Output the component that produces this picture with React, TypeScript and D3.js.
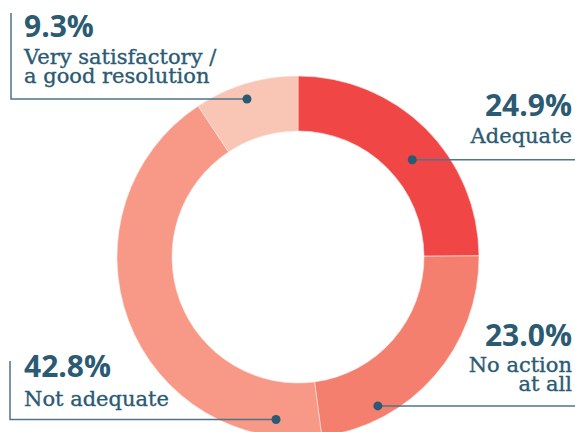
import React from "react";
import * as d3 from "d3";

const categories = ["Adequate", "No action at all", "Not adequate", "Very satisfactory / a good resolution"];
const values = [24.9, 23.0, 42.8, 9.3];
const colors = ["#f04646", "#f47f6e", "#f79986", "#f9c5b5"];
// dot positions along the ring (angle in degrees clockwise from top, distance from centre)
const dotAngles = [49.6, 151.8, 187.7, 342.1];
const dotRadii = [150, 169, 164, 166];

const W = 575, H = 432;
const cx = 298, cy = 257, R = 181, r = 126;
const textColor = "#2b5a73";
const lineColor = "#4d7489";
const sans = "'Open Sans', sans-serif";
const serif = "'DejaVu Serif', serif";
const serifSize = 21;
const pctSize = 30;

export default function App() {
  const pie = d3.pie<number>().sort(null).value((d) => d)(values);
  const arc = d3.arc<d3.PieArcDatum<number>>().innerRadius(r).outerRadius(R);
  const dot = (i: number) => {
    const a = (dotAngles[i] * Math.PI) / 180;
    return [cx + dotRadii[i] * Math.sin(a), cy - dotRadii[i] * Math.cos(a)];
  };
  const d0 = dot(0), d1 = dot(1), d2 = dot(2), d3p = dot(3);
  const pct = (v: number) => v.toFixed(1) + "%";
  const lab = { fontFamily: serif, fontSize: serifSize, fill: textColor, stroke: textColor, strokeWidth: 0.35 };
  const num = { fontFamily: sans, fontWeight: 700, fontSize: pctSize, fill: textColor };
  return (
    <div style={{ position: "fixed", left: 0, top: 0, width: W, height: H, background: "#fff" }}>
      <svg width={W} height={H}>
        <g transform={`translate(${cx},${cy})`}>
          {pie.map((p, i) => (
            <path key={i} d={arc(p) || ""} fill={colors[i]} stroke="#fde8e2" strokeWidth={0.6} />
          ))}
        </g>
        {/* Very satisfactory callout */}
        <polyline points={`11,13 11,${d3p[1]} ${d3p[0]},${d3p[1]}`} fill="none" stroke={lineColor} strokeWidth={1.5} />
        <circle cx={d3p[0]} cy={d3p[1]} r={4.5} fill={textColor} />
        <text x={24} y={37} {...num}>{pct(values[3])}</text>
        <text x={24} y={64} {...lab}>Very satisfactory /</text>
        <text x={24} y={83} {...lab}>a good resolution</text>

        {/* Adequate */}
        <line x1={d0[0]} y1={d0[1]} x2={W} y2={d0[1]} stroke={lineColor} strokeWidth={1.5} />
        <circle cx={d0[0]} cy={d0[1]} r={4.5} fill={textColor} />
        <text x={572} y={116} textAnchor="end" {...num}>{pct(values[0])}</text>
        <text x={572} y={143} textAnchor="end" {...lab}>Adequate</text>

        {/* No action */}
        <line x1={d1[0]} y1={d1[1]} x2={W} y2={d1[1]} stroke={lineColor} strokeWidth={1.5} />
        <circle cx={d1[0]} cy={d1[1]} r={4.5} fill={textColor} />
        <text x={572} y={346} textAnchor="end" {...num}>{pct(values[1])}</text>
        <text x={572} y={372} textAnchor="end" {...lab}>No action</text>
        <text x={572} y={391} textAnchor="end" {...lab}>at all</text>

        {/* Not adequate */}
        <polyline points={`10,361 10,${d2[1]} ${d2[0]},${d2[1]}`} fill="none" stroke={lineColor} strokeWidth={1.5} />
        <circle cx={d2[0]} cy={d2[1]} r={4.5} fill={textColor} />
        <text x={24} y={377} {...num}>{pct(values[2])}</text>
        <text x={24} y={406} {...lab}>Not adequate</text>
      </svg>
    </div>
  );
}
